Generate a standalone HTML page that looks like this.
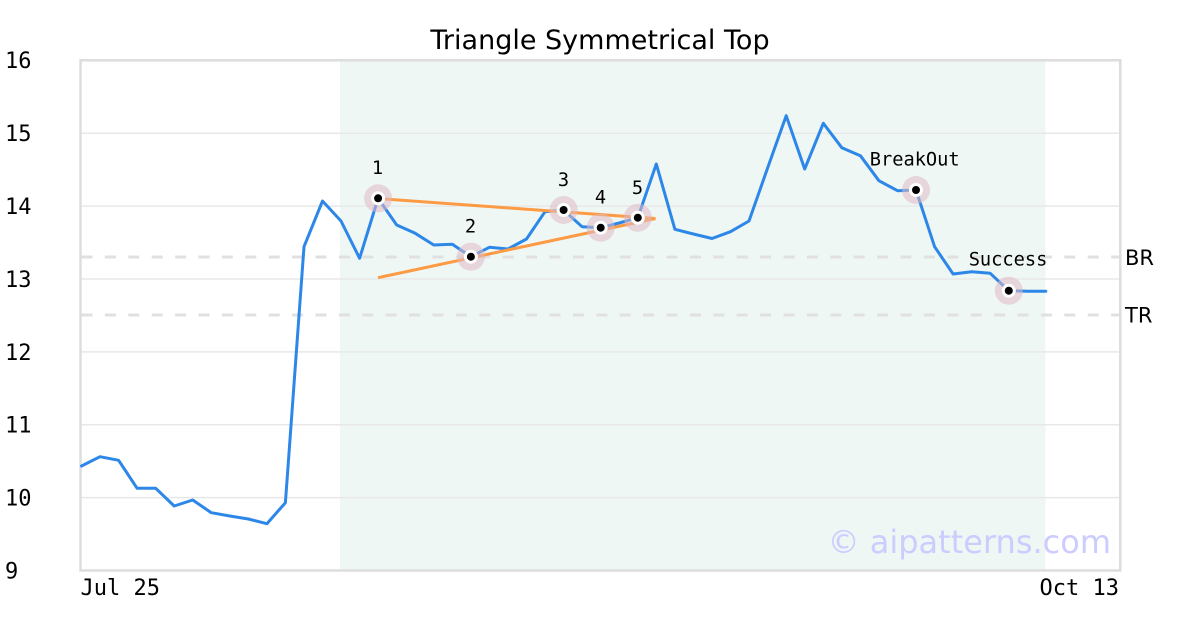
<!DOCTYPE html>
<html>
<head>
<meta charset="utf-8">
<style>
  html, body { margin: 0; padding: 0; background: #ffffff; }
  svg { display: block; }
</style>
</head>
<body>
<svg width="1200" height="630" viewBox="0 0 1200 630" xmlns="http://www.w3.org/2000/svg">
  <rect x="0" y="0" width="1200" height="630" fill="#ffffff"/>

  <!-- shaded pattern region -->
  <rect x="340" y="61" width="705.5" height="509" fill="#eff7f4"/>

  <!-- gridlines -->
  <g stroke="#e8e8e8" stroke-width="1.5">
    <line x1="81" y1="133.2" x2="1120" y2="133.2"/>
    <line x1="81" y1="206.1" x2="1120" y2="206.1"/>
    <line x1="81" y1="279" x2="1120" y2="279"/>
    <line x1="81" y1="351.9" x2="1120" y2="351.9"/>
    <line x1="81" y1="424.7" x2="1120" y2="424.7"/>
    <line x1="81" y1="497.6" x2="1120" y2="497.6"/>
  </g>

  <!-- BR / TR dashed lines -->
  <g stroke="#e0e0e0" stroke-width="3" stroke-dasharray="11,12.4">
    <line x1="81.5" y1="257" x2="1120" y2="257"/>
    <line x1="81.5" y1="315" x2="1120" y2="315"/>
  </g>

  <!-- plot border -->
  <rect x="80.5" y="60.3" width="1039.8" height="510.2" fill="none" stroke="#dddddd" stroke-width="2.5"/>

  <!-- price line -->
  <polyline fill="none" stroke="#2d87e8" stroke-width="3" stroke-linejoin="round" stroke-linecap="round"
    points="81.5,466 100,456.7 118.6,460.3 137.1,488.3 155.7,488.3 174.2,506 192.7,500 211.3,512.7 229.8,516 248.4,519 266.9,523.7 285.4,502.7 304,246.7 322.5,201 341,221 359.6,258.3 378.1,198.3 396.7,225 415.2,233.3 433.8,245 452.3,244.3 470.9,256.7 489.4,247.3 508,249 526.5,239 545,211.7 563.6,210 582,226.7 600.7,227.7 619.2,223 637.8,217.7 656.3,164 674.9,229.3 693.4,234 712,238.5 730.5,231.7 749,221 767.6,168 786.2,115.7 804.7,169 823.3,123.3 841.8,147.7 860.4,155.7 878.9,180.7 897.5,190.7 916,190 934.6,246.7 953.1,274 971.7,271.7 990.2,273.3 1008.8,290.7 1027.3,291.3 1045.8,291.3"/>

  <!-- triangle trend lines -->
  <g stroke="#fd9a44" stroke-width="3" stroke-linecap="butt">
    <line x1="378" y1="198.5" x2="655.5" y2="218.5"/>
    <line x1="378" y1="277.7" x2="655.5" y2="218.5"/>
  </g>

  <!-- markers -->
  <g>
    <g transform="translate(378.1,198.3)"><circle r="14" fill="rgba(222,186,196,0.55)"/><circle r="7" fill="#ffffff"/><circle r="4" fill="#000000"/></g>
    <g transform="translate(470.9,256.7)"><circle r="14" fill="rgba(222,186,196,0.55)"/><circle r="7" fill="#ffffff"/><circle r="4" fill="#000000"/></g>
    <g transform="translate(563.6,210)"><circle r="14" fill="rgba(222,186,196,0.55)"/><circle r="7" fill="#ffffff"/><circle r="4" fill="#000000"/></g>
    <g transform="translate(600.7,227.7)"><circle r="14" fill="rgba(222,186,196,0.55)"/><circle r="7" fill="#ffffff"/><circle r="4" fill="#000000"/></g>
    <g transform="translate(637.8,217.7)"><circle r="14" fill="rgba(222,186,196,0.55)"/><circle r="7" fill="#ffffff"/><circle r="4" fill="#000000"/></g>
    <g transform="translate(916,190)"><circle r="14" fill="rgba(222,186,196,0.55)"/><circle r="7" fill="#ffffff"/><circle r="4" fill="#000000"/></g>
    <g transform="translate(1008.8,290.7)"><circle r="14" fill="rgba(222,186,196,0.55)"/><circle r="7" fill="#ffffff"/><circle r="4" fill="#000000"/></g>
  </g>

  <!-- annotation labels -->
  <g font-family="'DejaVu Sans Mono', 'Liberation Mono', monospace" font-size="18.67" fill="#000000" text-anchor="middle">
    <text x="377.5" y="174">1</text>
    <text x="470.5" y="232.5">2</text>
    <text x="563.5" y="186">3</text>
    <text x="600.5" y="203.5">4</text>
    <text x="637.5" y="194">5</text>
    <text x="914.7" y="165.7">BreakOut</text>
    <text x="1008" y="265.7">Success</text>
  </g>

  <!-- watermark -->
  <text x="1111" y="553" font-family="'DejaVu Sans', 'Liberation Sans', sans-serif" font-size="32" fill="#ccccff" text-anchor="end">© aipatterns.com</text>

  <!-- title -->
  <text x="600" y="49" font-family="'DejaVu Sans', 'Liberation Sans', sans-serif" font-size="27" fill="#000000" text-anchor="middle">Triangle Symmetrical Top</text>

  <!-- y tick labels -->
  <g font-family="'DejaVu Sans Mono', 'Liberation Mono', monospace" font-size="22" fill="#000000">
    <text x="5" y="68">16</text>
    <text x="5" y="141">15</text>
    <text x="5" y="214">14</text>
    <text x="5" y="287">13</text>
    <text x="5" y="360">12</text>
    <text x="5" y="432.7">11</text>
    <text x="5" y="505.6">10</text>
    <text x="5" y="578.5">9</text>
  </g>

  <!-- x tick labels -->
  <g font-family="'DejaVu Sans Mono', 'Liberation Mono', monospace" font-size="22" fill="#000000">
    <text x="80.5" y="595">Jul 25</text>
    <text x="1119" y="595" text-anchor="end">Oct 13</text>
  </g>

  <!-- BR / TR labels -->
  <g font-family="'DejaVu Sans', 'Liberation Sans', sans-serif" font-size="21" fill="#000000">
    <text x="1125" y="265">BR</text>
    <text x="1125" y="322.7">TR</text>
  </g>
</svg>
</body>
</html>
